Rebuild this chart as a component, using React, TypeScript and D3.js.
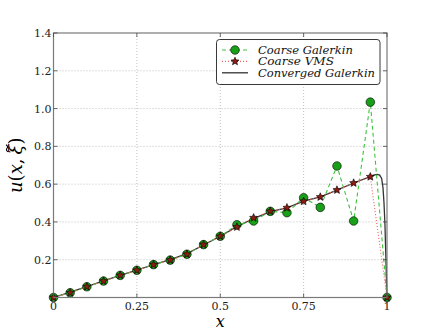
import * as React from "react";
import * as d3 from "d3";

// nodes of the coarse mesh
const xNodes = [0, 0.05, 0.1, 0.15, 0.2, 0.25, 0.3, 0.35, 0.4, 0.45, 0.5, 0.55, 0.6, 0.65, 0.7, 0.75, 0.8, 0.85, 0.9, 0.95, 1];
const galerkin = [0, 0.025, 0.057, 0.087, 0.117, 0.144, 0.174, 0.198, 0.229, 0.28, 0.324, 0.385, 0.405, 0.456, 0.449, 0.528, 0.477, 0.696, 0.405, 1.034, 0];
const vms = [0, 0.025, 0.057, 0.087, 0.117, 0.144, 0.174, 0.198, 0.229, 0.28, 0.324, 0.373, 0.422, 0.456, 0.475, 0.509, 0.532, 0.569, 0.606, 0.639, 0];
// converged (fine) solution
const xFine = [0, 0.05, 0.1, 0.15, 0.2, 0.25, 0.3, 0.35, 0.4, 0.45, 0.5, 0.55, 0.6, 0.65, 0.7, 0.75, 0.8, 0.85, 0.9, 0.95, 0.96, 0.97, 0.978, 0.984, 0.988, 0.991, 0.994, 0.996, 0.998, 1];
const converged = [0, 0.028, 0.058, 0.088, 0.117, 0.145, 0.174, 0.2, 0.232, 0.278, 0.324, 0.375, 0.418, 0.455, 0.475, 0.51, 0.533, 0.568, 0.606, 0.64, 0.648, 0.652, 0.648, 0.63, 0.58, 0.5, 0.38, 0.25, 0.12, 0];

const yTicks = [0.2, 0.4, 0.6, 0.8, 1.0, 1.2, 1.4];
const xTicks = [0, 0.25, 0.5, 0.75, 1];
const xTickLabels = ["0", "0.25", "0.5", "0.75", "1"];
const legendLabels = ["Coarse Galerkin", "Coarse VMS", "Converged Galerkin"];

const W = 430, H = 332;
const m = { left: 53.5, right: 387, top: 33, bottom: 297.5 };

const serif = "'DejaVu Serif', serif";

function Star({ cx, cy, r }: { cx: number; cy: number; r: number }) {
  const pts: string[] = [];
  for (let i = 0; i < 10; i++) {
    const a = -Math.PI / 2 + (i * Math.PI) / 5;
    const rr = i % 2 === 0 ? r : r * 0.45;
    pts.push(`${cx + rr * Math.cos(a)},${cy + rr * Math.sin(a)}`);
  }
  return <polygon points={pts.join(" ")} fill="#8b1c14" stroke="#000" strokeWidth={0.6} />;
}

export default function App() {
  const x = d3.scaleLinear().domain([0, 1]).range([m.left, m.right]);
  const y = d3.scaleLinear().domain([0, 1.4]).range([m.bottom, m.top]);
  const line = d3.line<[number, number]>().x(d => x(d[0])).y(d => y(d[1]));

  const gPts = xNodes.map((v, i) => [v, galerkin[i]] as [number, number]);
  const vPts = xNodes.map((v, i) => [v, vms[i]] as [number, number]);
  const cPts = xFine.map((v, i) => [v, converged[i]] as [number, number]);

  const green = "#18a018";
  const lx = 222, lt = 50, rowH = 11.4;
  // widths of the legend labels as seen in the picture
  const legendWidths = [95, 76, 117];

  return (
    <div style={{ position: "absolute", left: 0, top: 0 }}>
      <svg width={W} height={H} style={{ display: "block", background: "#fff", fontFamily: serif }}>
        {/* grid */}
        <g stroke="#b0b0b0" strokeWidth={0.8} strokeDasharray="1,2">
          {xTicks.slice(1, -1).map(t => (
            <line key={"gx" + t} x1={x(t)} x2={x(t)} y1={m.top} y2={m.bottom} />
          ))}
          {yTicks.slice(0, -1).map(t => (
            <line key={"gy" + t} x1={m.left} x2={m.right} y1={y(t)} y2={y(t)} />
          ))}
        </g>
        {/* data */}
        <path d={line(cPts) || ""} fill="none" stroke="#333" strokeWidth={1.3} />
        <path d={line(gPts) || ""} fill="none" stroke="#3cc43c" strokeWidth={1.1} strokeDasharray="4,3" />
        <path d={line(vPts) || ""} fill="none" stroke="#f06060" strokeWidth={1.1} strokeDasharray="1,2" />
        {gPts.map((p, i) => (
          <circle key={"g" + i} cx={x(p[0])} cy={y(p[1])} r={4.3} fill={green} stroke="#000" strokeWidth={0.6} />
        ))}
        {vPts.map((p, i) => (
          <Star key={"v" + i} cx={x(p[0])} cy={y(p[1])} r={4.2} />
        ))}
        {/* frame */}
        <rect x={m.left} y={m.top} width={m.right - m.left} height={m.bottom - m.top} fill="none" stroke="#7a7a7a" strokeWidth={1.2} />
        {/* ticks */}
        <g stroke="#444" strokeWidth={0.8}>
          {xTicks.map(t => (
            <g key={"tx" + t}>
              <line x1={x(t)} x2={x(t)} y1={m.bottom} y2={m.bottom - 4} />
              <line x1={x(t)} x2={x(t)} y1={m.top} y2={m.top + 4} />
            </g>
          ))}
          {yTicks.map(t => (
            <g key={"ty" + t}>
              <line x1={m.left} x2={m.left + 4} y1={y(t)} y2={y(t)} />
              <line x1={m.right} x2={m.right - 4} y1={y(t)} y2={y(t)} />
            </g>
          ))}
        </g>
        <g style={{ fontFamily: serif, fontSize: 11 }} fill="#222">
          {yTicks.map(t => (
            <text key={"ly" + t} x={m.left - 2} y={y(t) + 4} textAnchor="end">{t.toFixed(1)}</text>
          ))}
          {xTicks.map((t, i) => (
            <text key={"lx" + t} x={x(t)} y={m.bottom + 12} textAnchor="middle">{xTickLabels[i]}</text>
          ))}
        </g>
        {/* axis labels */}
        <text x={(m.left + m.right) / 2} y={327} textAnchor="middle" style={{ fontFamily: serif, fontStyle: "italic", fontSize: 16 }}>x</text>
        <g transform={`translate(22,${(m.top + m.bottom) / 2}) rotate(-90)`}>
          <text textAnchor="middle" style={{ fontFamily: serif, fontSize: 18 }}>
            <tspan style={{ fontStyle: "italic" }}>u</tspan>(<tspan style={{ fontStyle: "italic" }}>x</tspan>,
            <tspan dx={4} style={{ fontStyle: "italic" }}>ξ</tspan>)
          </text>
          {/* tilde over xi */}
          <path d="M 13.5 -14 q 1.5 -2.5 3.5 -1 q 2 1.5 3.5 -1" fill="none" stroke="#000" strokeWidth={1.1} />
        </g>
        {/* legend */}
        <rect x={216.5} y={39.5} width={163.5} height={45} rx={3} fill="#fff" stroke="#222" strokeWidth={0.9} />
        <line x1={lx} x2={lx + 26} y1={lt} y2={lt} stroke="#3cc43c" strokeWidth={1.1} strokeDasharray="4,3" />
        <circle cx={lx + 13} cy={lt} r={4.3} fill={green} stroke="#000" strokeWidth={0.6} />
        <line x1={lx} x2={lx + 26} y1={lt + rowH} y2={lt + rowH} stroke="#f06060" strokeWidth={1.1} strokeDasharray="1,2" />
        <Star cx={lx + 13} cy={lt + rowH} r={4.2} />
        <line x1={lx} x2={lx + 26} y1={lt + 2 * rowH} y2={lt + 2 * rowH} stroke="#333" strokeWidth={1.3} />
        <g style={{ fontFamily: serif, fontStyle: "italic", fontSize: 11.5 }} fill="#111">
          {legendLabels.map((s, i) => (
            <text key={s} x={258} y={lt + 4 + i * rowH} textLength={legendWidths[i]} lengthAdjust="spacingAndGlyphs">{s}</text>
          ))}
        </g>
      </svg>
    </div>
  );
}
